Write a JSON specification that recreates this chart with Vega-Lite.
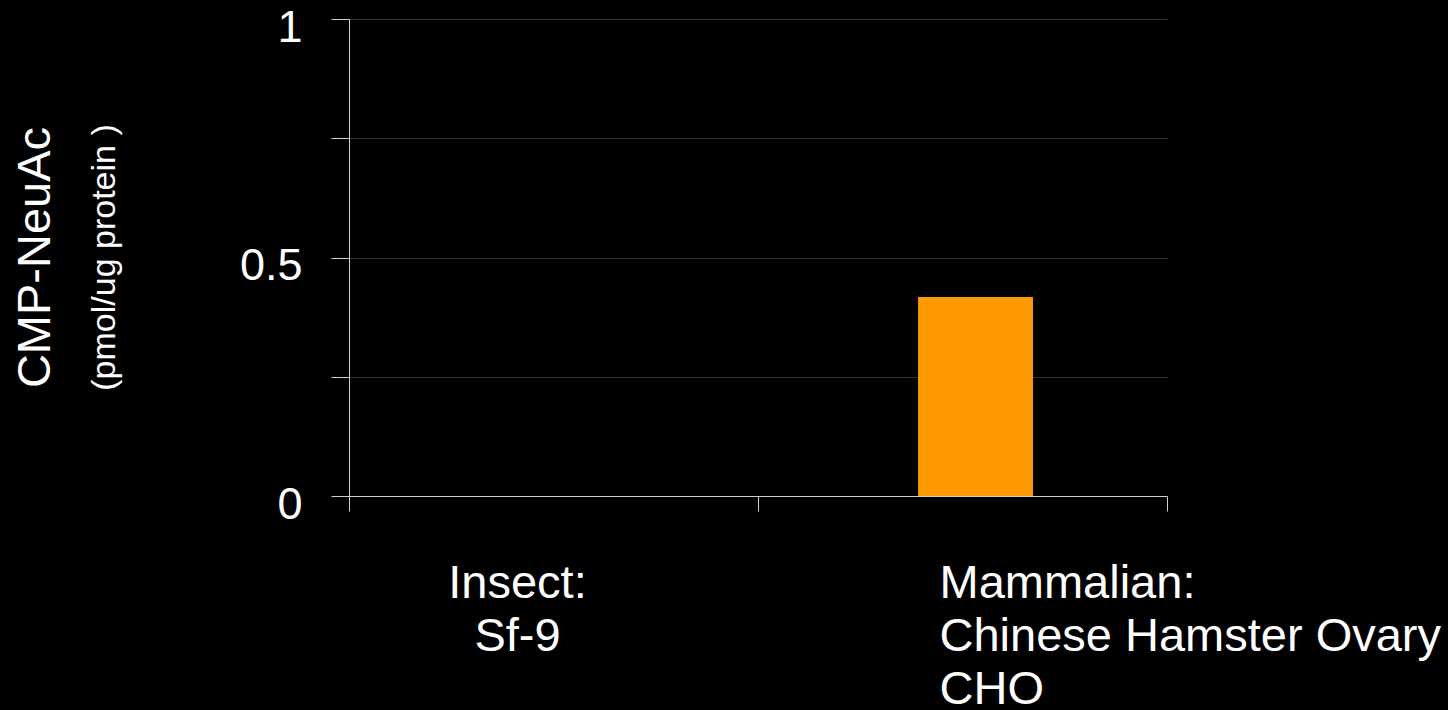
{
  "$schema": "https://vega.github.io/schema/vega-lite/v6.json",
  "width": 818,
  "height": 477,
  "autosize": {"type": "none"},
  "padding": {"left": 349, "top": 19, "right": 281, "bottom": 214},
  "background": "#000000",
  "config": {"view": {"stroke": null}, "font": "Liberation Sans"},
  "title": {
    "text": "CMP-NeuAc",
    "subtitle": "(pmol/ug protein )",
    "orient": "left",
    "anchor": "middle",
    "font": "Liberation Sans",
    "subtitleFont": "Liberation Sans",
    "fontSize": 47,
    "subtitleFontSize": 34,
    "fontWeight": "normal",
    "subtitleFontWeight": "normal",
    "color": "#ffffff",
    "subtitleColor": "#ffffff",
    "offset": 116,
    "subtitlePadding": 28
  },
  "data": {
    "values": [
      {"cell": "Insect:|Sf-9", "value": 0},
      {"cell": "Mammalian:|Chinese Hamster Ovary|CHO", "value": 0.417}
    ]
  },
  "encoding": {
    "x": {
      "field": "cell",
      "type": "nominal",
      "sort": null,
      "scale": {"paddingInner": 0, "paddingOuter": 0},
      "axis": {
        "title": null,
        "labels": false,
        "tickBand": "extent",
        "tickSize": 15,
        "tickColor": "#d0d0d0",
        "domainColor": "#d0d0d0"
      }
    }
  },
  "layer": [
    {
      "mark": {"type": "bar", "color": "#FF9900", "width": {"band": 0.281}, "xOffset": 13},
      "encoding": {
        "y": {
          "field": "value",
          "type": "quantitative",
          "scale": {"domain": [0, 1], "nice": false},
          "axis": {
            "title": null,
            "values": [0, 0.25, 0.5, 0.75, 1],
            "labelExpr": "datum.value==0?'0':datum.value==0.5?'0.5':datum.value==1?'1':''",
            "labelFont": "Liberation Sans",
            "labelFontSize": 45,
            "labelColor": "#ffffff",
            "labelAlign": "right",
            "labelBaseline": "alphabetic",
            "labelOffset": 22,
            "labelPadding": 29,
            "labelFlush": false,
            "labelOverlap": false,
            "tickSize": 18,
            "tickColor": "#d0d0d0",
            "domainColor": "#d0d0d0",
            "grid": true,
            "gridColor": "#333333"
          }
        }
      }
    },
    {
      "transform": [{"filter": "indexof(datum.cell,'Insect')>=0"}],
      "mark": {"type": "text", "lineBreak": "|", "align": "center", "baseline": "alphabetic", "font": "Liberation Sans", "fontSize": 47, "color": "#ffffff", "lineHeight": 53, "dx": -36, "dy": 102},
      "encoding": {
        "y": {"datum": 0, "type": "quantitative"},
        "text": {"field": "cell"}
      }
    },
    {
      "transform": [{"filter": "indexof(datum.cell,'Mammalian')>=0"}],
      "mark": {"type": "text", "lineBreak": "|", "align": "left", "baseline": "alphabetic", "font": "Liberation Sans", "fontSize": 47, "color": "#ffffff", "lineHeight": 53, "dx": -23, "dy": 102},
      "encoding": {
        "y": {"datum": 0, "type": "quantitative"},
        "text": {"field": "cell"}
      }
    }
  ]
}
